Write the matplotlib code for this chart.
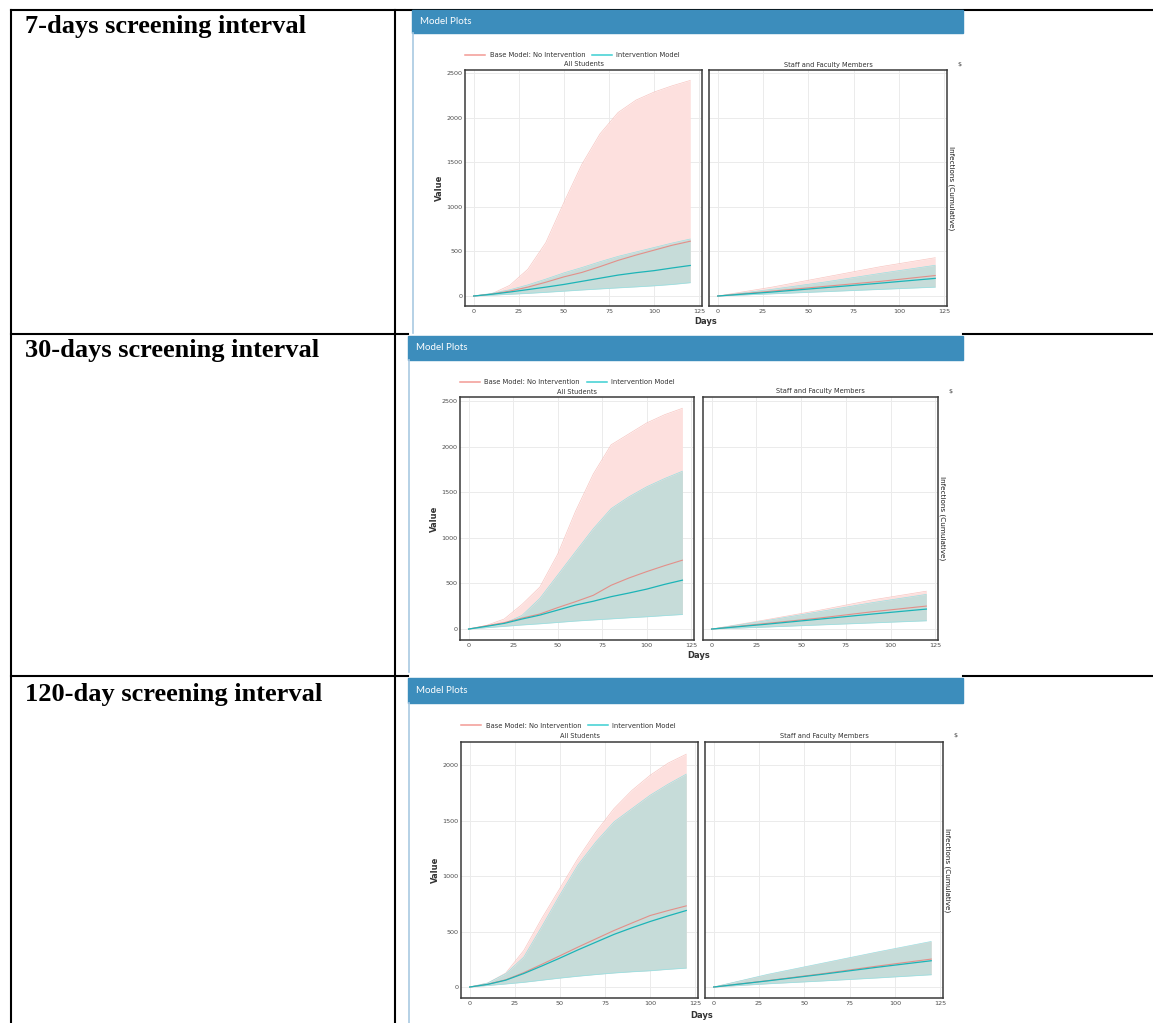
import matplotlib.pyplot as plt
from matplotlib.lines import Line2D
from matplotlib.patches import Rectangle

W, H = 1153, 1023

row_titles = ["7-days screening interval", "30-days screening interval",
              "120-day screening interval"]
legend_labels = ["Base Model: No Intervention", "Intervention Model"]
panel_titles = ["All Students", "Staff and Faculty Members"]

days = [0, 10, 20, 30, 40, 50, 60, 70, 80, 90, 100, 110, 120]
staff_days = [0, 30, 60, 90, 120]

# 7-day screening
stu7_base = [0, 22, 55, 100, 155, 215, 265, 330, 400, 460, 515, 570, 615]
stu7_base_lo = [0, 10, 22, 35, 48, 62, 76, 90, 104, 118, 130, 145, 160]
stu7_base_hi = [0, 25, 120, 300, 600, 1050, 1480, 1820, 2060, 2200, 2290, 2360, 2420]
stu7_int = [0, 20, 45, 72, 100, 130, 165, 200, 235, 262, 285, 315, 343]
stu7_int_lo = [0, 10, 20, 30, 42, 55, 68, 80, 92, 103, 115, 130, 150]
stu7_int_hi = [0, 30, 70, 125, 190, 260, 320, 385, 445, 495, 545, 595, 640]
stf7_base = [0, 55, 110, 165, 230]
stf7_base_lo = [0, 28, 55, 82, 110]
stf7_base_hi = [0, 100, 215, 330, 430]
stf7_int = [0, 45, 95, 145, 198]
stf7_int_lo = [0, 25, 50, 75, 100]
stf7_int_hi = [0, 75, 160, 255, 345]

# 30-day screening
stu30_base = [0, 36, 70, 120, 165, 235, 300, 370, 480, 560, 630, 695, 755]
stu30_base_lo = [0, 18, 35, 52, 66, 80, 95, 108, 120, 132, 145, 155, 168]
stu30_base_hi = [0, 40, 110, 270, 460, 820, 1290, 1700, 2020, 2140, 2260, 2350, 2420]
stu30_int = [0, 30, 62, 110, 153, 208, 263, 305, 355, 395, 438, 490, 536]
stu30_int_lo = [0, 15, 30, 45, 58, 73, 88, 100, 112, 124, 135, 148, 160]
stu30_int_hi = [0, 25, 62, 150, 336, 591, 847, 1100, 1320, 1450, 1560, 1650, 1730]
stf30_base = [0, 60, 120, 190, 252]
stf30_base_lo = [0, 25, 50, 75, 100]
stf30_base_hi = [0, 100, 205, 320, 415]
stf30_int = [0, 52, 108, 165, 219]
stf30_int_lo = [0, 22, 45, 68, 91]
stf30_int_hi = [0, 90, 190, 290, 380]

# 120-day screening
stu120_base = [0, 25, 65, 130, 205, 282, 360, 435, 510, 578, 645, 690, 732]
stu120_base_lo = [0, 16, 30, 46, 65, 84, 101, 116, 130, 141, 150, 163, 175]
stu120_base_hi = [0, 36, 126, 330, 620, 890, 1160, 1400, 1610, 1775, 1910, 2020, 2100]
stu120_int = [0, 24, 62, 122, 190, 261, 335, 405, 475, 535, 591, 642, 690]
stu120_int_lo = [0, 14, 28, 43, 62, 81, 98, 113, 127, 138, 147, 160, 171]
stu120_int_hi = [0, 36, 120, 270, 545, 830, 1100, 1310, 1490, 1610, 1730, 1830, 1920]
stf120_base = [0, 58, 120, 188, 252]
stf120_base_lo = [0, 30, 58, 88, 115]
stf120_base_hi = [0, 110, 210, 310, 405]
stf120_int = [0, 56, 115, 178, 237]
stf120_int_lo = [0, 30, 55, 82, 111]
stf120_int_hi = [0, 115, 215, 315, 411]

rows = [
    dict(stu=(stu7_base, stu7_base_lo, stu7_base_hi, stu7_int, stu7_int_lo, stu7_int_hi),
         stf=(stf7_base, stf7_base_lo, stf7_base_hi, stf7_int, stf7_int_lo, stf7_int_hi),
         shot=(412, 10, 963, 333), head=23, p1=(465, 702), p2=(709, 947), py=(70, 306),
         ylim=(-112, 2537), yticks=[0, 500, 1000, 1500, 2000, 2500],
         title_y=27, legend_y=55, sub_y=64.5, tick_y=311, days_y=321),
    dict(stu=(stu30_base, stu30_base_lo, stu30_base_hi, stu30_int, stu30_int_lo, stu30_int_hi),
         stf=(stf30_base, stf30_base_lo, stf30_base_hi, stf30_int, stf30_int_lo, stf30_int_hi),
         shot=(408, 336, 963, 672), head=24, p1=(460, 694), p2=(703, 938), py=(397, 640),
         ylim=(-120, 2544), yticks=[0, 500, 1000, 1500, 2000, 2500],
         title_y=351, legend_y=382, sub_y=391.5, tick_y=645, days_y=655.5),
    dict(stu=(stu120_base, stu120_base_lo, stu120_base_hi, stu120_int, stu120_int_lo, stu120_int_hi),
         stf=(stf120_base, stf120_base_lo, stf120_base_hi, stf120_int, stf120_int_lo, stf120_int_hi),
         shot=(408, 678, 963, 1023), head=25, p1=(461, 698), p2=(705, 943), py=(742, 998),
         ylim=(-99, 2210), yticks=[0, 500, 1000, 1500, 2000],
         title_y=694, legend_y=725.5, sub_y=736, tick_y=1004, days_y=1015),
]

BASE = "#e8827b"
INT = "#1cb4b7"
BASE_FILL = "#fde0de"
INT_FILL = "#c6dcd9"
HEADER = "#3c8dbc"

fig = plt.figure(figsize=(W / 100, H / 100), dpi=100)
bg = fig.add_axes([0, 0, 1, 1])
bg.set_xlim(0, W)
bg.set_ylim(H, 0)
bg.axis("off")


def px_box(x0, y0, x1, y1):
    return [x0 / W, 1 - y1 / H, (x1 - x0) / W, (y1 - y0) / H]


# table grid
lw_tab = 1.5
bg.plot([11, W], [9.5, 9.5], color="black", lw=lw_tab)
for yl in (333.5, 676):
    bg.plot([11, 408], [yl, yl], color="black", lw=lw_tab)
    bg.plot([963, W], [yl, yl], color="black", lw=lw_tab)
for xl in (11, 395):
    bg.plot([xl, xl], [9.5, H], color="black", lw=lw_tab)


def draw_panel(ax, x, series, row):
    mid_b, lo_b, hi_b, mid_i, lo_i, hi_i = series
    ax.fill_between(x, lo_b, hi_b, color=BASE_FILL, lw=0, zorder=2)
    ax.plot(x, hi_b, color="#f8c6c2", lw=0.5, zorder=2)
    ax.fill_between(x, lo_i, hi_i, color=INT_FILL, lw=0, zorder=3)
    ax.plot(x, hi_i, color="#98e0e2", lw=0.5, zorder=3)
    ax.plot(x, lo_i, color="#98e0e2", lw=0.5, zorder=3)
    ax.plot(x, mid_b, color=BASE, lw=0.8, alpha=0.85, zorder=4)
    ax.plot(x, mid_i, color=INT, lw=0.9, zorder=5)
    ax.set_xlim(-4.8, 126.5)
    ax.set_ylim(*row["ylim"])
    ax.set_xticks([0, 25, 50, 75, 100, 125])
    ax.set_yticks(row["yticks"])
    ax.grid(True, color="#ebebeb", lw=0.7)
    ax.set_axisbelow(True)
    ax.tick_params(length=0, labelsize=4.6, labelcolor="#4d4d4d", pad=2)
    for s in ax.spines.values():
        s.set_color("#3a3a3a")
        s.set_linewidth(1.1)


legend_handles = [Line2D([], [], color="#f39a94", lw=1.1),
                  Line2D([], [], color="#3ccfd2", lw=1.1)]

for row, title in zip(rows, row_titles):
    x0, y0, x1, y1 = row["shot"]
    bg.text(25, row["title_y"], title, family="Liberation Serif", weight="bold",
            fontsize=19, va="center", ha="left")
    bg.add_patch(Rectangle((x0, y0), x1 - x0, y1 - y0, color="white", zorder=1))
    bg.add_patch(Rectangle((x0, y0), x1 - x0, row["head"], color=HEADER, zorder=2))
    bg.plot([x0 + 1, x0 + 1], [y0 + row["head"], y1], color="#a9c9e2", lw=1.2, zorder=2)
    bg.text(x0 + 8, y0 + row["head"] / 2, "Model Plots", family="Lato", fontsize=7,
            color="white", va="center", ha="left", zorder=3)

    pt, pb = row["py"]
    ax1 = fig.add_axes(px_box(row["p1"][0], pt, row["p1"][1], pb))
    ax2 = fig.add_axes(px_box(row["p2"][0], pt, row["p2"][1], pb))
    draw_panel(ax1, days, row["stu"], row)
    draw_panel(ax2, staff_days, row["stf"], row)
    ax2.tick_params(labelleft=False)

    # subplot titles and shared axis labels
    for (a, b), name in zip((row["p1"], row["p2"]), panel_titles):
        bg.text((a + b) / 2, row["sub_y"], name, fontsize=4.8, color="#333333",
                ha="center", va="center")
    mid_y = (pt + pb) / 2
    bg.text(row["p1"][0] - 26, mid_y, "Value", rotation=90, fontsize=6,
            weight="bold", color="#333333", ha="center", va="center")
    bg.text((row["p1"][1] + row["p2"][0]) / 2, row["days_y"], "Days", fontsize=6,
            weight="bold", color="#333333", ha="center", va="center")
    bg.text(row["p2"][1] + 4, mid_y, "Infections (Cumulative)", rotation=270,
            fontsize=5.2, color="#1a1a1a", ha="center", va="center")
    bg.text(row["p2"][1] + 12, row["sub_y"], "$", fontsize=4.5, color="#333333",
            ha="center", va="center")

    fig.legend(legend_handles, legend_labels, loc="center left",
               bbox_to_anchor=(row["p1"][0] / W, 1 - row["legend_y"] / H),
               bbox_transform=fig.transFigure, ncol=2, frameon=False,
               fontsize=4.9, handlelength=3.0, handletextpad=0.6,
               columnspacing=1.0, borderpad=0, borderaxespad=0,
               labelcolor="#333333")

fig.savefig("out.png", dpi=100, facecolor="white")
